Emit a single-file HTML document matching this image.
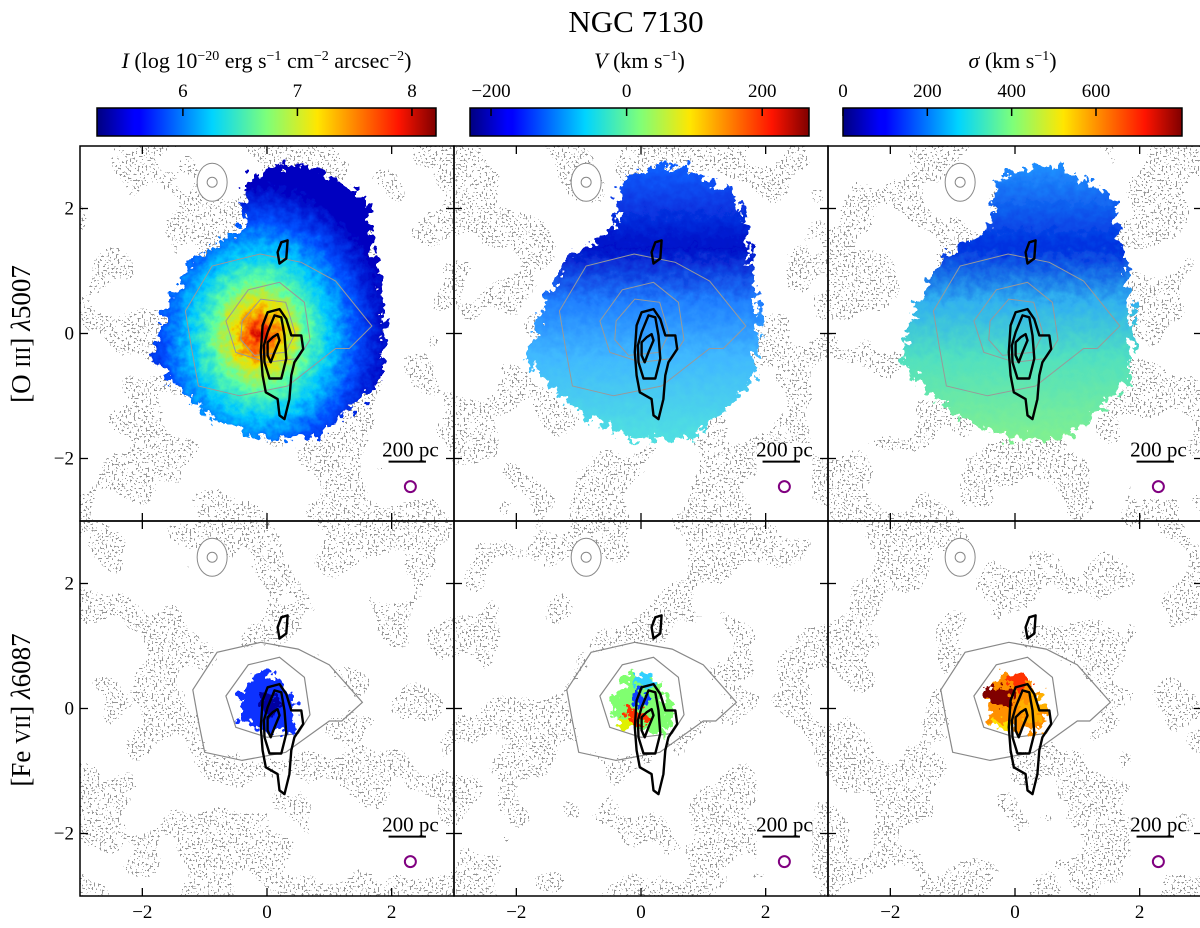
<!DOCTYPE html>
<html><head><meta charset="utf-8"><style>
html,body{margin:0;padding:0;background:#fff;}
svg{display:block;font-family:"Liberation Serif",serif;}
</style></head><body>
<svg id="fig" width="1200" height="928" viewBox="0 0 1200 928" xmlns="http://www.w3.org/2000/svg">
<defs>
<linearGradient id="jet" x1="0" x2="1" y1="0" y2="0">
<stop offset="0" stop-color="#00007f"/><stop offset="0.11" stop-color="#0000ff"/><stop offset="0.125" stop-color="#0000ff"/>
<stop offset="0.34" stop-color="#00d4ff"/><stop offset="0.5" stop-color="#7dff7a"/><stop offset="0.65" stop-color="#ffe600"/>
<stop offset="0.89" stop-color="#ff1400"/><stop offset="1" stop-color="#7f0000"/>
</linearGradient>
<radialGradient id="gI" cx="0.46" cy="0.62" r="0.55">
<stop offset="0" stop-color="#d00000"/><stop offset="0.08" stop-color="#ff5000"/><stop offset="0.2" stop-color="#f0e000"/>
<stop offset="0.36" stop-color="#60ffa0"/><stop offset="0.55" stop-color="#00c8ff"/><stop offset="0.75" stop-color="#0050ff"/><stop offset="1" stop-color="#0000c0"/>
</radialGradient>
<linearGradient id="gV" x1="0" x2="0" y1="0" y2="1">
<stop offset="0" stop-color="#1060ff"/><stop offset="0.3" stop-color="#0010c8"/><stop offset="0.5" stop-color="#2080ff"/>
<stop offset="0.7" stop-color="#40b8ff"/><stop offset="1" stop-color="#50e0e0"/>
</linearGradient>
<linearGradient id="gS" x1="0" x2="0" y1="0" y2="1">
<stop offset="0" stop-color="#2090ff"/><stop offset="0.3" stop-color="#0030e0"/><stop offset="0.5" stop-color="#30b0f0"/>
<stop offset="0.7" stop-color="#50e0c0"/><stop offset="1" stop-color="#80f090"/>
</linearGradient>
<filter id="rough" x="-20%" y="-20%" width="140%" height="140%">
<feTurbulence type="fractalNoise" baseFrequency="0.12" numOctaves="3" seed="4" result="n"/>
<feDisplacementMap in="SourceGraphic" in2="n" scale="26" xChannelSelector="R" yChannelSelector="G"/>
</filter>
<filter id="speck" x="0" y="0" width="1" height="1" color-interpolation-filters="sRGB">
<feTurbulence type="fractalNoise" baseFrequency="0.5" numOctaves="1" seed="3" result="fine"/>
<feColorMatrix in="fine" type="matrix" values="0 0 0 0 0.58 0 0 0 0 0.58 0 0 0 0 0.58 5 0 0 0 -2.6" result="f2"/>
<feComponentTransfer in="f2" result="fineT"><feFuncA type="discrete" tableValues="0 1"/></feComponentTransfer>
<feTurbulence type="fractalNoise" baseFrequency="0.016" numOctaves="2" seed="7" result="coarse"/>
<feColorMatrix in="coarse" type="matrix" values="0 0 0 0 0 0 0 0 0 0 0 0 0 0 0 5 0 0 0 -2.1" result="c2"/>
<feComponentTransfer in="c2" result="coarseT"><feFuncA type="discrete" tableValues="0 1"/></feComponentTransfer>
<feComposite in="fineT" in2="coarseT" operator="in"/>
</filter>
</defs>
<text x="636" y="32" font-size="31" text-anchor="middle">NGC 7130</text>
<g id="cbars"></g>
<g id="panels"></g>
<text transform="translate(30,334) rotate(-90)" font-size="27" text-anchor="middle">[O <tspan font-size="21">III</tspan>] <tspan font-style="italic">λ</tspan>5007</text>
<text transform="translate(30,710) rotate(-90)" font-size="27" text-anchor="middle">[Fe <tspan font-size="21">VII</tspan>] <tspan font-style="italic">λ</tspan>6087</text>
</svg>
<script>
// ---- data ----
const cbMin = [5.25, -231, 0];
const cbMax = [8.21, 269, 804];
const cbTicks = [[6,7,8],[-200,0,200],[0,200,400,600]];
const cbTickLabels = [["6","7","8"],["−200","0","200"],["0","200","400","600"]];
const axisTicks = [-2,0,2];
const axisTickLabels = ["−2","0","2"];
const blobX = [-0.31,0.23,0.66,1.57,1.73,1.9,1.84,1.2,0.76,-0.1,-0.85,-1.6,-1.83,-1.6,-1.2,-0.42];
const blobY = [2.47,2.69,2.69,2.2,1.4,0.24,-0.72,-1.37,-1.69,-1.69,-1.37,-0.72,-0.4,0.4,1.2,1.67];
const c1X = [-0.07,0.01,0.20,0.31,0.39,0.55,0.58,0.44,0.39,0.36,0.28,0.20,0.17,-0.02,-0.07,-0.10];
const c1Y = [0.13,0.34,0.39,0.23,-0.03,-0.03,-0.25,-0.46,-0.67,-1.05,-1.37,-1.31,-1.05,-0.94,-0.67,-0.30];
const c2X = [0.01,0.12,0.23,0.28,0.31,0.23,0.04,-0.04,-0.05];
const c2Y = [0.02,0.29,0.26,-0.03,-0.40,-0.72,-0.72,-0.46,-0.19];
const c3X = [0.01,0.09,0.17,0.20,0.12,0.06,0.01];
const c3Y = [-0.14,-0.06,-0.01,-0.11,-0.30,-0.46,-0.35];
const c4X = [0.23,0.33,0.31,0.20,0.17];
const c4Y = [1.46,1.49,1.20,1.12,1.30];
const g1X = [-1.19,-0.8,-0.1,0.5,1.0,1.53,1.2,1.0,0.3,-0.4,-1.0,-1.1];
const g1Y = [0.3,0.9,1.06,0.95,0.7,0.1,-0.2,-0.2,-0.7,-0.83,-0.7,-0.2];
const g2X = [-0.66,-0.3,0.2,0.6,0.69,0.5,0.0,-0.5];
const g2Y = [0.2,0.7,0.82,0.5,-0.1,-0.4,-0.46,-0.3];
const g3X = [-0.4,-0.1,0.3,0.45,0.3,-0.2,-0.42];
const g3Y = [0.2,0.55,0.5,0.0,-0.3,-0.35,-0.1];
const feX = [-0.45,-0.2,0.1,0.35,0.5,0.4,0.0,-0.4];
const feY = [0.15,0.6,0.55,0.3,-0.1,-0.4,-0.35,-0.25];

const NS='http://www.w3.org/2000/svg';
function mk(tag,attrs,parent){const e=document.createElementNS(NS,tag);for(const k in attrs)e.setAttribute(k,attrs[k]);parent.appendChild(e);return e;}

// colorbars
const cbG=document.getElementById('cbars');
const cbX0=[97,470,843], cbW=339, cbY=108, cbH=28;
const cbTitles=['<tspan font-style="italic">I</tspan> (log 10<tspan dy="-8" font-size="14">−20</tspan><tspan dy="8"> erg s</tspan><tspan dy="-8" font-size="14">−1</tspan><tspan dy="8"> cm</tspan><tspan dy="-8" font-size="14">−2</tspan><tspan dy="8"> arcsec</tspan><tspan dy="-8" font-size="14">−2</tspan><tspan dy="8">)</tspan>',
'<tspan font-style="italic">V</tspan> (km s<tspan dy="-8" font-size="14">−1</tspan><tspan dy="8">)</tspan>',
'<tspan font-style="italic">σ</tspan> (km s<tspan dy="-8" font-size="14">−1</tspan><tspan dy="8">)</tspan>'];
const cbNames=['intensity','velocity','dispersion'];
for(let i=0;i<3;i++){
  const g=mk('g',{},cbG);
  
  
  const r=mk('rect',{x:cbX0[i],y:cbY,width:cbW,height:cbH,fill:'url(#jet)',stroke:'#000','stroke-width':1.5},g);
  
  
  const t=mk('text',{x:cbX0[i]+cbW/2,y:68,'font-size':22,'text-anchor':'middle'},g);
  t.innerHTML=cbTitles[i];
  
  
  cbTicks[i].forEach((v,j)=>{
    const x=cbX0[i]+(v-cbMin[i])/(cbMax[i]-cbMin[i])*cbW;
    const l=mk('line',{x1:x,x2:x,y1:cbY,y2:cbY+8,stroke:'#000','stroke-width':1.5},g);
    
    
    const tl=mk('text',{x:x,y:97,'font-size':19,'text-anchor':'middle'},g);
    tl.textContent=cbTickLabels[i][j];
    
    
  });
}

// panels
const pG=document.getElementById('panels');
const colX=[80,454,828], rowY=[146,521], PW=374, PH=375;
const fills=[['url(#gI)','url(#gV)','url(#gS)'],[null,null,null]];
for(let r=0;r<2;r++)for(let c=0;c<3;c++){
  const x0=colX[c], y0=rowY[r];
  const sx=v=>x0+(v+3)/6*PW, sy=v=>y0+(3-v)/6*PH;
  const poly=(X,Y)=>X.map((v,k)=>sx(v).toFixed(1)+','+sy(Y[k]).toFixed(1)).join(' ');
  const g=mk('g',{},pG);
  
  
  const cid='clip'+r+c;
  const cp=mk('clipPath',{id:cid},g); mk('rect',{x:x0,y:y0,width:PW,height:PH},cp);
  const inner=mk('g',{'clip-path':'url(#'+cid+')'},g);
  const sp=mk('rect',{x:x0,y:y0,width:PW,height:PH,fill:'#999',filter:'url(#speck)'},inner);
  
  
  // white interior around nucleus
  mk('polygon',{points:poly(g1X,g1Y),fill:'#fff',filter:'url(#rough)'},inner);
  // small gray contour top-left
  mk('ellipse',{cx:sx(-0.88),cy:sy(2.42),rx:15,ry:19,fill:'#fff',stroke:'#888','stroke-width':1},inner);
  mk('ellipse',{cx:sx(-0.88),cy:sy(2.42),rx:5,ry:5,fill:'none',stroke:'#888','stroke-width':1},inner);
  if(r===0){
    const b=mk('polygon',{points:poly(blobX,blobY),fill:fills[0][c],filter:'url(#rough)'},inner);
    
    
    mk('polygon',{points:poly(g1X.map(v=>v*1.1),g1Y.map(v=>v*1.2)),fill:'none',stroke:'#999','stroke-width':1},inner);
    mk('polygon',{points:poly(g2X,g2Y),fill:'none',stroke:'#999','stroke-width':1},inner);
    mk('polygon',{points:poly(g3X,g3Y),fill:'none',stroke:'#999','stroke-width':1},inner);
  } else {
    mk('polygon',{points:poly(g1X,g1Y),fill:'none',stroke:'#888','stroke-width':1.2},inner);
    mk('polygon',{points:poly(g2X,g2Y),fill:'none',stroke:'#888','stroke-width':1.2},inner);
    const fg=mk('g',{filter:'url(#rough)'},inner);
    
    
    if(c===0){ mk('polygon',{points:poly(feX,feY),fill:'#1030ff'},fg); mk('ellipse',{cx:sx(0.05),cy:sy(0.05),rx:8,ry:10,fill:'#0000a0'},fg);}
    if(c===1){ mk('polygon',{points:poly(feX,feY),fill:'#80ff70'},fg);
      mk('ellipse',{cx:sx(0.05),cy:sy(0.45),rx:12,ry:8,fill:'#30d0ff'},fg);
      mk('ellipse',{cx:sx(0.0),cy:sy(0.15),rx:10,ry:8,fill:'#1040ff'},fg);
      mk('ellipse',{cx:sx(-0.1),cy:sy(-0.15),rx:12,ry:8,fill:'#ff3000'},fg);
      mk('ellipse',{cx:sx(-0.25),cy:sy(-0.25),rx:8,ry:6,fill:'#e0f000'},fg);}
    if(c===2){ mk('polygon',{points:poly(feX,feY),fill:'#ff9000'},fg);
      mk('ellipse',{cx:sx(-0.25),cy:sy(0.2),rx:14,ry:10,fill:'#800000'},fg);
      mk('ellipse',{cx:sx(0.05),cy:sy(0.45),rx:12,ry:7,fill:'#ff3000'},fg);
      mk('ellipse',{cx:sx(0.3),cy:sy(0.0),rx:10,ry:14,fill:'#ffb000'},fg);
      mk('ellipse',{cx:sx(-0.2),cy:sy(-0.25),rx:10,ry:6,fill:'#ffe000'},fg);}
  }
  // black contours
  [[c1X,c1Y],[c2X,c2Y],[c3X,c3Y],[c4X,c4Y]].forEach(([X,Y])=>{
    const p=mk('polygon',{points:poly(X,Y),fill:'none',stroke:'#000','stroke-width':2.4,'stroke-linejoin':'round'},inner);
    
    
  });
  // scale bar and beam
  mk('rect',{x:sx(1.85),y:sy(-1.75),width:sx(2.75)-sx(1.85),height:sy(-2.65)-sy(-1.75),fill:'#fff'},inner);
  const sb=mk('line',{x1:sx(1.95),x2:sx(2.55),y1:sy(-2.05),y2:sy(-2.05),stroke:'#000','stroke-width':2},inner);
  
  
  const st=mk('text',{x:sx(2.3),y:sy(-2.0)-2,'font-size':21,'text-anchor':'middle'},inner);
  st.textContent='200 pc';
  
  
  const bm=mk('circle',{cx:sx(2.3),cy:sy(-2.45),r:5.5,fill:'none',stroke:'#800080','stroke-width':2},inner);
  
  
  // frame
  const fr=mk('rect',{x:x0,y:y0,width:PW,height:PH,fill:'none',stroke:'#000','stroke-width':1.5},g);
  
  
  axisTicks.forEach((v,j)=>{
    const X=sx(v),Y=sy(v);
    mk('line',{x1:X,x2:X,y1:y0+PH,y2:y0+PH-8,stroke:'#000','stroke-width':1.3},g);
    mk('line',{x1:X,x2:X,y1:y0,y2:y0+8,stroke:'#000','stroke-width':1.3},g);
    mk('line',{x1:x0,x2:x0+8,y1:Y,y2:Y,stroke:'#000','stroke-width':1.3},g);
    mk('line',{x1:x0+PW,x2:x0+PW-8,y1:Y,y2:Y,stroke:'#000','stroke-width':1.3},g);
    if(r===1){const t=mk('text',{x:X,y:918,'font-size':19,'text-anchor':'middle'},g);t.textContent=axisTickLabels[j];
      
      }
    if(c===0){const t=mk('text',{x:x0-6,y:Y+6,'font-size':19,'text-anchor':'end'},g);t.textContent=axisTickLabels[j];
      
      }
  });
}
</script>
</body></html>
